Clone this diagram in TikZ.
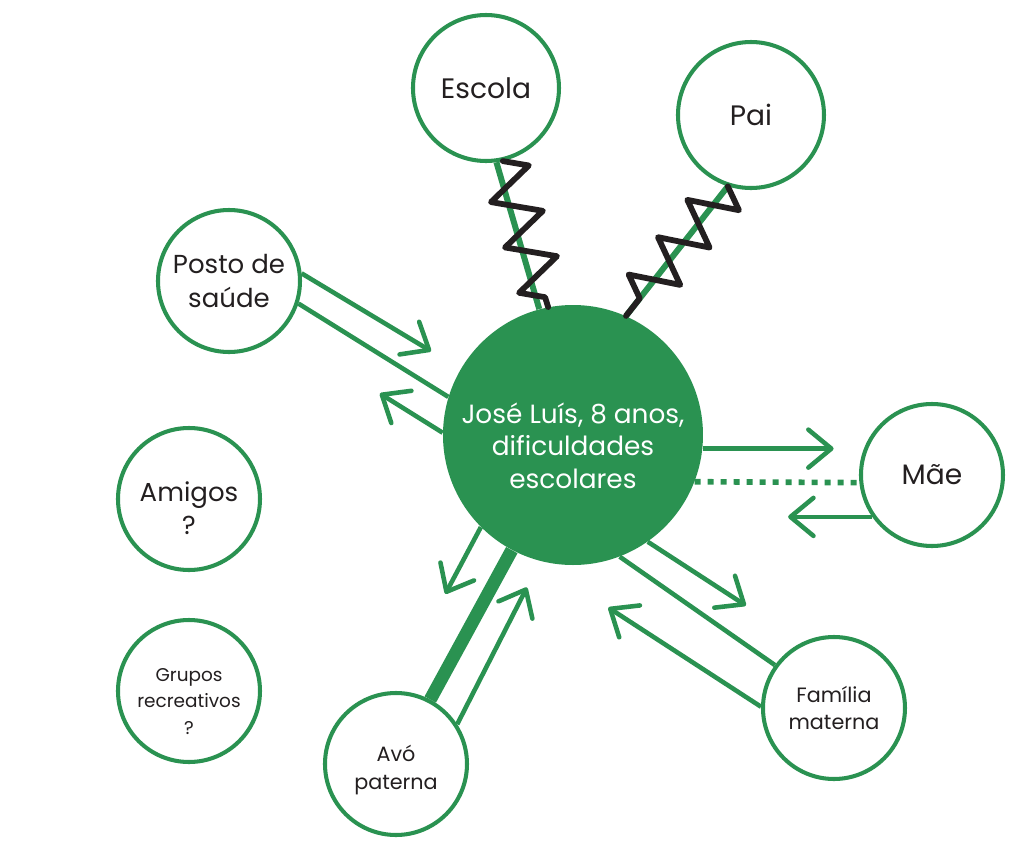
\documentclass[tikz,border=0pt]{standalone}
\usepackage{fontspec}
\setmainfont{Poppins}
\usetikzlibrary{positioning,arrows.meta,decorations.pathmorphing}
\definecolor{ecogreen}{RGB}{42,146,81}
\definecolor{inkblack}{RGB}{35,31,32}
\begin{document}
\begin{tikzpicture}[on grid,
    member node/.style={circle,draw=ecogreen,line width=2.3pt,fill=white,minimum size=2.84cm,inner sep=0pt,align=center,text=inkblack,font=\fontsize{14.8}{19}\selectfont},
    focus node/.style={circle,fill=ecogreen,minimum size=5.2cm,inner sep=0pt,align=center,text=white,font=\fontsize{15}{18.5}\selectfont},
    big text/.style={font=\fontsize{16}{20}\selectfont},
    small text/.style={font=\fontsize{11.8}{15.8}\selectfont},
    tiny text/.style={font=\fontsize{10.5}{15}\selectfont},
    link/.style={draw=ecogreen,line width=2.6pt},
    one way/.style={link,-{Straight Barb[length=4.6mm,width=7.6mm,round]}},
    tie/.style={draw=ecogreen,line width=3.4pt},
    conflict/.style={draw=inkblack,line width=3.3pt,line join=round,line cap=round,decorate,decoration={zigzag,segment length=9.5mm,amplitude=4.7mm}},
    strong/.style={draw=ecogreen,line width=7.4pt},
    weak/.style={draw=ecogreen,line width=3.2pt,dash pattern=on 3.4pt off 4pt}]

  \useasboundingbox (-11.46,8.70) rectangle (9.02,-8.46);

  \node[focus node] (centre) {\rule{0pt}{24pt}José Luís, 8 anos,\\dificuldades\\escolares};
  \node[member node,big text,minimum size=2.92cm] (escola) [above left=6.94cm and 1.74cm of centre] {Escola};
  \node[member node,big text,minimum size=2.92cm] (pai) [above right=6.40cm and 3.56cm of centre] {Pai};
  \node[member node] (posto) [above left=3.08cm and 6.88cm of centre] {Posto de\\saúde};
  \node[member node,big text] (mae) [below right=0.80cm and 7.18cm of centre] {Mãe};
  \node[member node] (amigos) [below left=1.28cm and 7.68cm of centre] {\rule{0pt}{21.8pt}Amigos\\?};
  \node[member node,tiny text] (grupos) [below=3.84cm of amigos] {\rule{0pt}{19pt}Grupos\\recreativos\\?};
  \node[member node,small text] (avo) [below left=6.58cm and 3.54cm of centre] {\rule{0pt}{16.2pt}Avó\\paterna};
  \node[member node,small text] (familia) [below right=5.46cm and 5.22cm of centre] {Família\\materna};

  \coordinate (posto in) at ([shift={(-31:3.02cm)}]posto.6);
  \coordinate (posto out) at ([shift={(148:1.48cm)}]centre.179);
  \coordinate (mae in) at ([shift={(0:2.62cm)}]centre.-6);
  \coordinate (mae out) at ([shift={(180:1.68cm)}]mae.215);
  \coordinate (familia in) at ([shift={(-33:2.34cm)}]centre.-55);
  \coordinate (familia out) at ([shift={(147:3.64cm)}]familia.179);
  \coordinate (avo in) at ([shift={(242:1.51cm)}]centre.225);
  \coordinate (avo out) at ([shift={(63:3.07cm)}]avo.33);

  \draw[tie] (escola.-82) -- (centre.105);
  \draw[conflict] (escola.-77) -- (centre.101);
  \draw[tie] (pai.252) -- (centre.66);
  \draw[conflict] (pai.252) -- (centre.66);

  \draw[link] (posto.-18) -- (centre.163);
  \draw[one way] (posto.6) -- (posto in);
  \draw[one way] (centre.179) -- (posto out);

  \draw[one way] (centre.-6) -- (mae in);
  \draw[weak] (centre.-21) -- (mae.186);
  \draw[one way] (mae.215) -- (mae out);

  \draw[link] (centre.-69) -- (familia.144);
  \draw[one way] (centre.-55) -- (familia in);
  \draw[one way] (familia.179) -- (familia out);

  \draw[strong] (avo.62) -- (centre.242);
  \draw[one way] (centre.225) -- (avo in);
  \draw[one way] (avo.33) -- (avo out);
\end{tikzpicture}
\end{document}
